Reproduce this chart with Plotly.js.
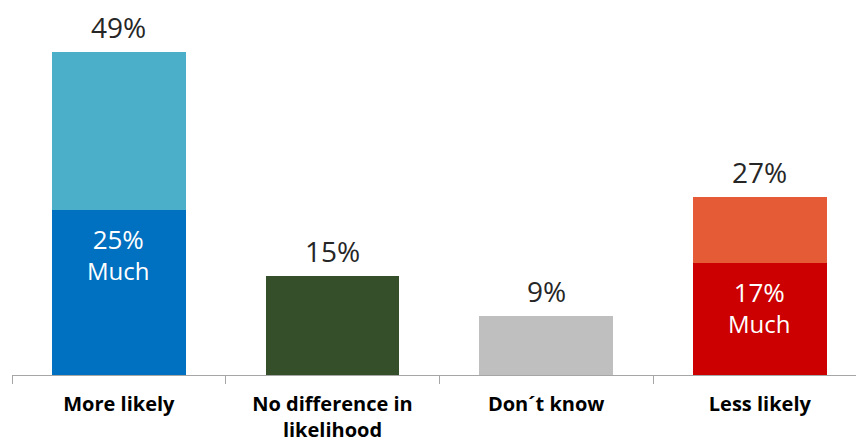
<!DOCTYPE html>
<html>
<head>
<meta charset="utf-8">
<script src="https://cdn.plot.ly/plotly-3.0.1.min.js"></script>
<style>html,body{margin:0;padding:0;background:#fff;}#chart{width:856px;height:441px;}</style>
</head>
<body>
<div id="chart"></div>
<script>
const categories = ["More likely", "No difference in<br>likelihood", "Don´t know", "Less likely"];
const totals = [49, 15, 9, 27];
const much = [25, null, null, 17];
const totalLabels = ["49%", "15%", "9%", "27%"];
const muchLabels = ["25%", null, null, "17%"];
const muchWord = "Much";
const baseColors = ["#0070C0", "#354F2B", "#BFBFBF", "#CC0000"];
const topColors = ["#4BAFC9", "#354F2B", "#BFBFBF", "#E45B35"];

const baseVals = totals.map((t, i) => much[i] != null ? much[i] : t);
const topVals = totals.map((t, i) => much[i] != null ? t - much[i] : 0);

const traces = [
  {type: "bar", x: categories, y: baseVals, marker: {color: baseColors}, width: 0.627, hoverinfo: "skip"},
  {type: "bar", x: categories, y: topVals, marker: {color: topColors}, width: 0.627, hoverinfo: "skip"}
];

const font = "Open Sans, sans-serif";
const annotations = [];
categories.forEach((c, i) => {
  annotations.push({x: c, y: totals[i], text: totalLabels[i], showarrow: false, yanchor: "middle", yshift: 25,
    font: {family: font, size: 28, color: "#262626"}});
  if (muchLabels[i]) {
    annotations.push({x: c, y: much[i],
      text: "<span style='font-size:26px'>" + muchLabels[i] + "</span><br><span style='font-size:24px'>" + muchWord + "</span>",
      showarrow: false, yanchor: "middle", yshift: -44,
      font: {family: font, size: 24, color: "#ffffff"}});
  }
});

const layout = {
  width: 856, height: 441,
  margin: {l: 12, r: 0, t: 0, b: 66},
  barmode: "stack",
  showlegend: false,
  paper_bgcolor: "#ffffff", plot_bgcolor: "#ffffff",
  xaxis: {type: "category", range: [-0.5, 3.45], tickson: "boundaries", ticks: "outside", ticklen: 8,
    tickcolor: "#A6A6A6", showline: true, linecolor: "#A6A6A6", linewidth: 1, showgrid: false, zeroline: false,
    ticklabelstandoff: 11,
    tickfont: {family: font, size: 20, color: "#000000", weight: "bold"}},
  yaxis: {range: [0, 56.9], visible: false, showgrid: false, zeroline: false},
  annotations: annotations
};

Plotly.newPlot("chart", traces, layout, {staticPlot: true, displayModeBar: false});
</script>
</body>
</html>
